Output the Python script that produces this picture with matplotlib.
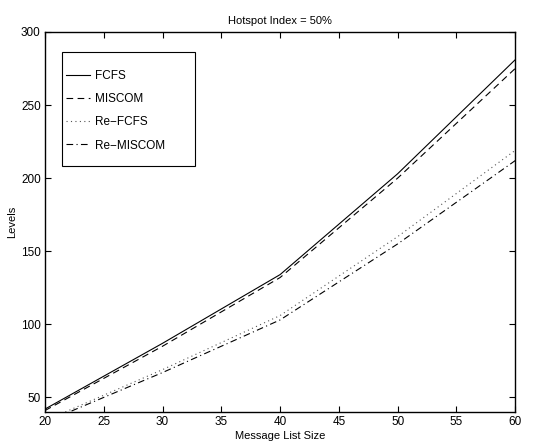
import matplotlib
matplotlib.use("Agg")
import matplotlib.pyplot as plt
from matplotlib.patches import Rectangle

plt.rcParams['font.family'] = ['Liberation Sans', 'DejaVu Sans']

x = [20, 30, 40, 50, 60]
fcfs = [42, 87, 134, 203, 281]
miscom = [41, 85, 132, 200, 275]
re_fcfs = [34, 69, 106, 160, 219]
re_miscom = [33, 67, 103, 155, 212]

xticks = [20, 25, 30, 35, 40, 45, 50, 55, 60]
yticks = [50, 100, 150, 200, 250, 300]

fig = plt.figure(figsize=(5.35, 4.44), dpi=100)
ax = fig.add_axes([0.084, 0.072, 0.879, 0.856])

lw = 0.8
ax.plot(x, fcfs, color='black', linestyle='-', linewidth=lw, label='FCFS')
ax.plot(x, miscom, color='black', linestyle=(0, (6, 4)), linewidth=lw, label='MISCOM')
ax.plot(x, re_fcfs, color='#555555', linestyle=(0, (1, 3)), linewidth=lw, label='Re\u2212FCFS')
ax.plot(x, re_miscom, color='black', linestyle=(0, (6, 3, 1, 3)), linewidth=lw, label='Re\u2212MISCOM')

ax.set_xlim(20, 60)
ax.set_ylim(40, 300)
ax.set_xticks(xticks)
ax.set_yticks(yticks)
ax.tick_params(direction='in', top=True, right=True, length=4, width=0.8, labelsize=8.5, pad=3)
for s in ax.spines.values():
    s.set_linewidth(1.0)

ax.set_title('Hotspot Index = 50%', fontsize=8, pad=6)
ax.set_xlabel('Message List Size', fontsize=8, labelpad=2)
ax.set_ylabel('Levels', fontsize=8, labelpad=3)

# legend box frame
ax.add_patch(Rectangle((0.036, 0.647), 0.283, 0.300, transform=ax.transAxes,
                       facecolor='white', edgecolor='black', linewidth=0.8, zorder=4))
leg = ax.legend(loc='upper left', bbox_to_anchor=(0.045, 0.900), fontsize=8.5,
                frameon=False, handlelength=2.0, handletextpad=0.45,
                labelspacing=0.95, borderpad=0, borderaxespad=0)
leg.set_zorder(5)

fig.savefig('out.png', dpi=100)
